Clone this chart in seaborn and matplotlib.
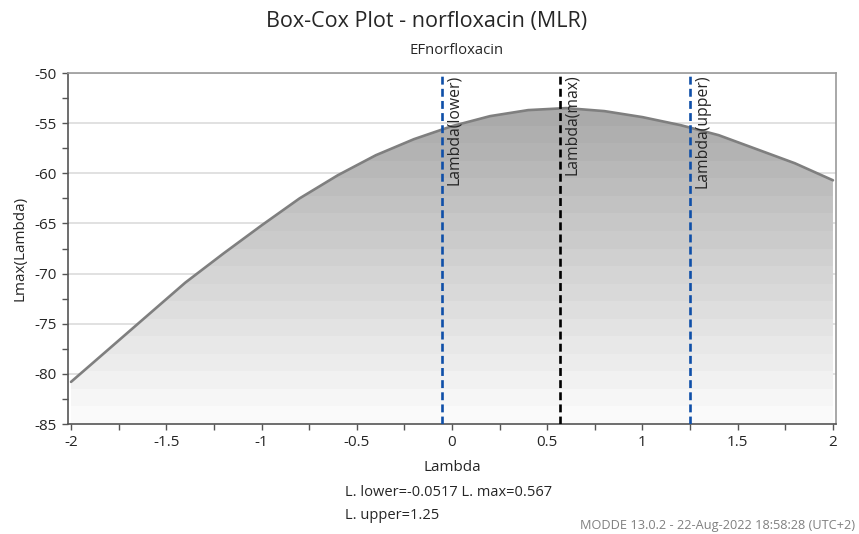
import matplotlib
matplotlib.use("Agg")
import matplotlib.pyplot as plt
import numpy as np
import pandas as pd
import seaborn as sns
from matplotlib.ticker import MultipleLocator

# Box-Cox likelihood profile
lambdas = [-2.0, -1.8, -1.6, -1.4, -1.2, -1.0, -0.8, -0.6, -0.4, -0.2, 0.0,
           0.2, 0.4, 0.6, 0.8, 1.0, 1.2, 1.4, 1.6, 1.8, 2.0]
lmax = [-80.8, -77.5, -74.2, -70.9, -68.0, -65.2, -62.5, -60.2, -58.2, -56.6, -55.3,
        -54.3, -53.7, -53.5, -53.8, -54.4, -55.2, -56.2, -57.6, -59.0, -60.7]

lambda_lower = -0.0517
lambda_max = 0.567
lambda_upper = 1.25

ref_lines = [
    (lambda_lower, "Lambda(lower)", "#0f4fa8"),
    (lambda_max, "Lambda(max)", "black"),
    (lambda_upper, "Lambda(upper)", "#0f4fa8"),
]

sns.set_style("ticks")
plt.rcParams["font.family"] = ["Open Sans", "DejaVu Sans"]

df = pd.DataFrame({"Lambda": lambdas, "Lmax(Lambda)": lmax})

fig = plt.figure(figsize=(8.59, 5.34), dpi=100)
ax = fig.add_axes([68 / 859, 1 - 424 / 534, (836 - 68) / 859, (424 - 73) / 534])

ymin, ymax = -85, -50
xmin, xmax = -2.016, 2.016

# stepped grey gradient under the curve
poly = ax.fill_between(df["Lambda"], df["Lmax(Lambda)"], ymin, color="none", lw=0)
bands = np.linspace(0.98, 0.63, 20).reshape(-1, 1)
img = ax.imshow(bands, cmap="gray", vmin=0, vmax=1, aspect="auto",
                extent=[df["Lambda"].min(), df["Lambda"].max(), ymin, ymax],
                origin="lower", interpolation="nearest", zorder=1)
img.set_clip_path(poly.get_paths()[0], transform=ax.transData)

sns.lineplot(data=df, x="Lambda", y="Lmax(Lambda)", ax=ax, color="#7f7f7f",
             lw=1.9, zorder=3)

for xv, label, col in ref_lines:
    ax.axvline(xv, color=col, lw=1.9, ls=(0, (3, 1.6)), zorder=4)
    ax.annotate(label, xy=(xv, ymax), xytext=(3, -1), textcoords="offset points",
                rotation=90, ha="left", va="top", fontsize=11.3, zorder=5)

ax.set_xlim(xmin, xmax)
ax.set_ylim(ymin, ymax)
ax.xaxis.set_major_locator(MultipleLocator(0.5))
ax.xaxis.set_minor_locator(MultipleLocator(0.25))
ax.yaxis.set_major_locator(MultipleLocator(5))
ax.yaxis.set_minor_locator(MultipleLocator(2.5))
ax.set_xticklabels([f"{v:g}" for v in ax.get_xticks()])
ax.set_yticklabels([f"{v:g}" for v in ax.get_yticks()])
ax.grid(axis="y", which="major", color="#dcdcdc", lw=1.2, zorder=0)
ax.set_axisbelow(True)
ax.tick_params(which="both", direction="out", length=4, width=1, color="#555555",
               labelsize=11, pad=4)

for side in ["left", "bottom"]:
    ax.spines[side].set_color("#555555")
    ax.spines[side].set_linewidth(1.2)
for side in ["top", "right"]:
    ax.spines[side].set_visible(True)
    ax.spines[side].set_color("#999999")
    ax.spines[side].set_linewidth(1.2)

ax.set_xlabel("Lambda", fontsize=11, labelpad=7)
ax.set_ylabel("Lmax(Lambda)", fontsize=11, labelpad=5)

fig.text(427 / 859, 1 - 22 / 534, "Box-Cox Plot - norfloxacin (MLR)",
         ha="center", va="center", fontsize=15.5)
fig.text(457 / 859, 1 - 50 / 534, "EFnorfloxacin", ha="center", va="center",
         fontsize=10.7)
fig.text(345 / 859, 1 - 504 / 534,
         f"L. lower={lambda_lower:g} L. max={lambda_max:g}\nL. upper={lambda_upper:g}",
         ha="left", va="center", fontsize=10.5, linespacing=1.75)
fig.text(855 / 859, 1 - 526 / 534, "MODDE 13.0.2 - 22-Aug-2022 18:58:28 (UTC+2)",
         ha="right", va="center", fontsize=9.2, color="#808080")

fig.savefig("out.png", dpi=100)
